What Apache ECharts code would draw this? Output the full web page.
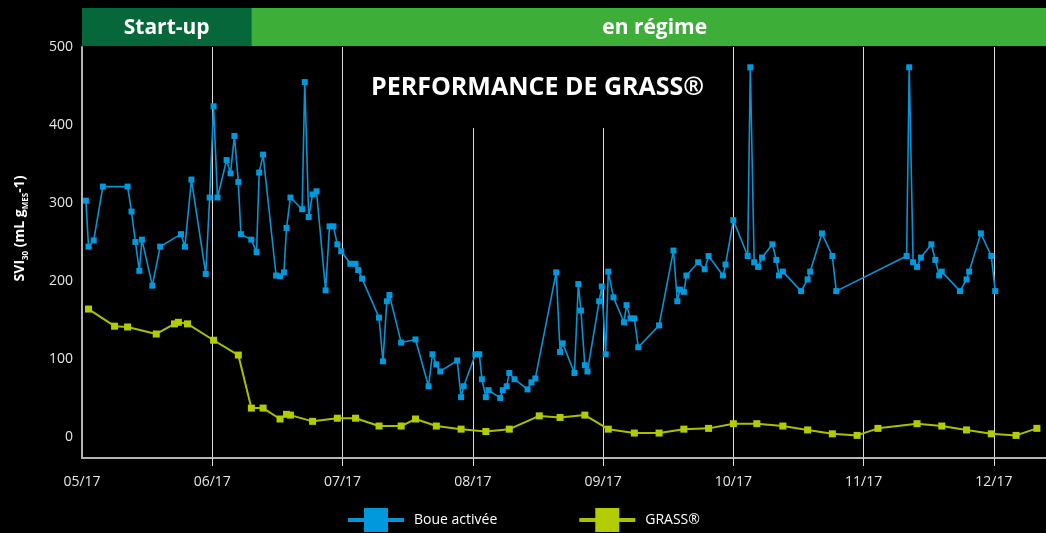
<!DOCTYPE html>
<html>
<head>
<meta charset="utf-8">
<script src="https://cdn.jsdelivr.net/npm/echarts@6/dist/echarts.min.js"></script>
<style>
  html, body { margin: 0; background: #000; }
  #chart { width: 1046px; height: 533px; }
</style>
</head>
<body>
<div id="chart"></div>
<script>
// x values are months since 05/17 (fraction = part of the month)
const monthLabels = ["05/17", "06/17", "07/17", "08/17", "09/17", "10/17", "11/17", "12/17"];
const yTicks = [0, 100, 200, 300, 400, 500];

const boueX = [
  0.03, 0.05, 0.09, 0.16, 0.35, 0.38, 0.41, 0.44, 0.46, 0.54, 0.60, 0.76, 0.79, 0.84, 0.95, 0.98,
  1.01, 1.04, 1.11, 1.14, 1.17, 1.20, 1.22, 1.30, 1.34, 1.36, 1.39, 1.49, 1.52, 1.55, 1.57, 1.60,
  1.69, 1.71, 1.74, 1.77, 1.80, 1.87, 1.90, 1.93, 1.96, 1.99,
  2.06, 2.10, 2.12, 2.15, 2.28, 2.31, 2.34, 2.36, 2.45, 2.56, 2.66, 2.69, 2.72, 2.75, 2.88, 2.91, 2.93,
  3.02, 3.05, 3.07, 3.10, 3.12, 3.21, 3.23, 3.26, 3.28, 3.32, 3.42, 3.45, 3.48, 3.64, 3.67, 3.69,
  3.78, 3.81, 3.83, 3.86, 3.88, 3.97, 3.99,
  4.02, 4.04, 4.08, 4.16, 4.18, 4.21, 4.24, 4.27, 4.43, 4.54, 4.57, 4.59, 4.62, 4.64, 4.73, 4.78,
  4.81, 4.92, 4.94, 5.00,
  5.11, 5.13, 5.16, 5.19, 5.22, 5.30, 5.33, 5.35, 5.38, 5.52, 5.57, 5.59, 5.68, 5.76, 5.79,
  6.33, 6.35, 6.38, 6.41, 6.44, 6.52, 6.55, 6.58, 6.60, 6.74, 6.79, 6.81, 6.90, 6.98, 7.01
];
const boueY = [
  303, 244, 252, 321, 321, 289, 250, 213, 253, 194, 244, 260, 244, 330, 209, 307,
  424, 307, 355, 338, 386, 327, 260, 253, 237, 339, 362, 207, 206, 211, 268, 307,
  292, 455, 282, 311, 315, 188, 270, 270, 247, 238,
  222, 222, 214, 203, 153, 97, 174, 182, 121, 125, 65, 106, 93, 84, 98, 51, 65,
  106, 106, 74, 51, 60, 50, 60, 65, 82, 74, 61, 70, 75, 211, 109, 120,
  82, 196, 162, 92, 84, 174, 193,
  106, 212, 179, 147, 169, 152, 152, 115, 143, 239, 174, 189, 186, 207, 224, 215,
  232, 207, 221, 278,
  232, 474, 224, 218, 230, 247, 227, 207, 212, 187, 202, 212, 261, 232, 187,
  232, 474, 224, 218, 230, 247, 227, 207, 212, 187, 202, 212, 261, 232, 187
];

const grassX = [
  0.05, 0.25, 0.35, 0.57, 0.71, 0.74, 0.81, 1.01, 1.20, 1.30, 1.39, 1.52, 1.57, 1.60, 1.77, 1.96,
  2.10, 2.28, 2.45, 2.56, 2.72, 2.91, 3.10, 3.28, 3.51, 3.67, 3.86, 4.04, 4.24, 4.43, 4.62, 4.81,
  5.00, 5.18, 5.38, 5.57, 5.76, 5.95, 6.11, 6.41, 6.60, 6.79, 6.98, 7.17, 7.33
];
const grassY = [
  164, 142, 141, 132, 145, 147, 145, 124, 105, 37, 37, 23, 29, 28, 20, 24,
  24, 14, 14, 23, 14, 10, 7, 10, 27, 25, 28, 10, 5, 5, 10, 11,
  17, 17, 14, 9, 4, 2, 11, 17, 14, 9, 4, 2, 11
];

const phaseNames = ["Start-up", "en régime"];
const phaseStart = [0, 1.30];
const phaseEnd = [1.30, 7.4];
const phaseColors = ["#05673a", "#3dae38"];

const FONT = "Open Sans";
const chart = echarts.init(document.getElementById("chart"));

const option = {
  backgroundColor: "#000",
  animation: false,
  textStyle: { fontFamily: FONT },
  title: {
    text: "PERFORMANCE DE GRASS®",
    left: 357,
    top: 47,
    padding: [25, 14, 25, 14],
    backgroundColor: "#000",
    textStyle: { color: "#fff", fontSize: 25, fontWeight: "bold", fontFamily: FONT, lineHeight: 31 },
  },
  grid: { left: 82, right: 0, top: 47, bottom: 75 },
  legend: {
    left: 346,
    top: 508,
    padding: 0,
    itemWidth: 56,
    itemHeight: 30,
    itemGap: 80,
    lineStyle: { width: 4 },
    textStyle: { color: "#fff", fontSize: 14, padding: [0, 0, 0, 5] },
    data: ["Boue activée", "GRASS®"],
  },
  xAxis: {
    type: "value",
    min: 0,
    max: 7.4,
    interval: 1,
    axisLine: { onZero: false, lineStyle: { color: "#b5b5b5", width: 2 } },
    axisTick: { show: true, length: 8, lineStyle: { color: "#dcdcdc" }, customValues: [1, 2, 3, 4, 5, 6, 7] },
    axisLabel: {
      color: "#e6e6e6",
      fontSize: 14,
      margin: 17,
      customValues: [0, 1, 2, 3, 4, 5, 6, 7],
      formatter: (v) => monthLabels[Math.round(v)],
    },
    splitLine: { show: true, lineStyle: { color: "#dcdcdc", width: 1 } },
  },
  yAxis: {
    type: "value",
    min: -27,
    max: 500,
    name: "{b|SVI}{s|30}{b| (mL g}{s|MES}{b|-1)}",
    nameLocation: "middle",
    nameGap: 52,
    nameRotate: 90,
    nameTextStyle: {
      padding: [0, 0, 0, 48],
      rich: {
        b: { color: "#fff", fontSize: 14, fontWeight: "bold", fontFamily: FONT, lineHeight: 20 },
        s: { color: "#fff", fontSize: 8, fontWeight: "bold", fontFamily: FONT, lineHeight: 20, verticalAlign: "bottom", padding: [7, 0, 0, 0] },
      },
    },
    axisLine: { show: true, onZero: false, lineStyle: { color: "#b5b5b5", width: 2 } },
    axisTick: { show: false },
    axisLabel: { color: "#e6e6e6", fontSize: 14, margin: 9, customValues: yTicks },
    splitLine: { show: false },
  },
  series: [
    {
      name: "Boue activée",
      type: "line",
      data: boueX.map((x, i) => [x, boueY[i]]),
      symbol: "rect",
      symbolSize: 6,
      color: "#0099dc",
      lineStyle: { width: 1.6, color: "#0a93d3" },
    },
    {
      name: "GRASS®",
      type: "line",
      data: grassX.map((x, i) => [x, grassY[i]]),
      symbol: "rect",
      symbolSize: 7,
      color: "#b3cc00",
      lineStyle: { width: 2, color: "#a9bf00" },
    },
  ],
};

chart.setOption(option);

// phase header bar above the plot, placed through the x axis scale
const headerEls = [];
phaseNames.forEach((name, i) => {
  const x0 = chart.convertToPixel({ gridIndex: 0 }, [phaseStart[i], 0])[0];
  const x1 = i === phaseNames.length - 1 ? 1046 : chart.convertToPixel({ gridIndex: 0 }, [phaseEnd[i], 0])[0];
  headerEls.push({
    type: "rect",
    shape: { x: x0, y: 8, width: x1 - x0, height: 38 },
    style: { fill: phaseColors[i] },
  });
  headerEls.push({
    type: "text",
    x: (x0 + x1) / 2 + (i === 1 ? 6 : 0),
    y: 28,
    style: {
      text: name,
      fill: "#fff",
      font: "bold 21px '" + FONT + "'",
      align: "center",
      verticalAlign: "middle",
    },
  });
});
chart.setOption({ graphic: headerEls });
</script>
</body>
</html>
